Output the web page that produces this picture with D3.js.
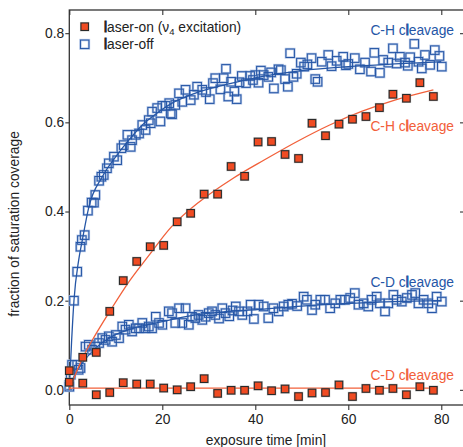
<!DOCTYPE html>
<html>
<head>
<meta charset="utf-8">
<script src="https://cdn.jsdelivr.net/npm/d3@7"></script>
<style>
body { margin: 0; background: #fff; }
svg { display: block; font-family: 'Liberation Sans', Arial, sans-serif; }
</style>
</head>
<body>
<svg id="chart" width="463" height="447"></svg>
<script>
// laser-on points (one every ~2.9 min)
const onTimes = [0, 2.9, 5.8, 8.7, 11.6, 14.5, 17.4, 20.3, 23.2, 26.1, 29.0, 31.9, 34.8, 37.7,
	40.6, 43.5, 46.4, 49.3, 52.2, 55.1, 58.0, 60.9, 63.8, 66.7, 69.6, 72.5, 75.4, 78.3];
const onCH = [0.043, 0.073, 0.084, 0.176, 0.245, 0.288, 0.321, 0.324, 0.377, 0.396, 0.439, 0.439, 0.501, 0.479,
	0.556, 0.557, 0.528, 0.519, 0.598, 0.570, 0.596, 0.607, 0.613, 0.633, 0.663, 0.654, 0.689, 0.658];
const onCD = [0.017, 0.015, -0.011, -0.006, 0.016, 0.013, 0.013, 0.004, 0.0, 0.007, 0.025, -0.008, -0.001, -0.001,
	0.009, -0.002, 0.002, -0.015, -0.007, -0.006, 0.011, -0.015, 0.003, -0.001, 0.003, -0.011, 0.007, -0.001];

// laser-off points, C-H
const offCHTimes = [0, 1.0, 1.7, 2.4, 2.7, 3.3, 4.0, 4.8, 5.3, 5.6, 6.4, 6.9, 7.4, 8.1, 8.5, 9.6, 10.3, 11.2, 11.7,
	12.5, 13.2, 13.5, 14.3, 15.0, 15.7, 16.4, 17.1, 17.5, 17.8, 18.9, 19.6, 20.0, 20.7, 21.5, 21.8, 22.1, 22.8,
	23.6, 24.3, 25.0, 26.1, 26.8, 27.5, 28.6, 29.4, 30.2, 30.9, 31.4, 32.5, 33.2, 33.7, 34.2, 34.8, 35.5, 36.0,
	36.6, 37.1, 38.0, 38.9, 39.5, 40.0, 40.7, 41.2, 41.8, 42.8, 43.4, 44.0, 45.0, 45.5, 46.4, 47.0, 47.5, 48.2,
	48.9, 49.8, 50.5, 51.2, 52.1, 52.9, 53.4, 54.3, 55.7, 56.4, 57.5, 58.9, 59.5, 60.0, 61.4, 62.5, 63.6, 64.9,
	65.6, 66.8, 67.5, 68.6, 69.6, 70.4, 71.1, 72.2, 72.8, 73.3, 74.2, 75.1, 75.8, 76.5, 77.6, 78.6, 79.6, 80.1];
const offCH = [0.010, 0.200, 0.265, 0.321, 0.336, 0.347, 0.402, 0.420, 0.420, 0.437, 0.469, 0.478, 0.482, 0.497,
	0.508, 0.523, 0.515, 0.542, 0.549, 0.572, 0.545, 0.560, 0.572, 0.575, 0.594, 0.583, 0.605, 0.598, 0.624,
	0.632, 0.602, 0.637, 0.637, 0.643, 0.620, 0.618, 0.639, 0.665, 0.646, 0.673, 0.650, 0.662, 0.680, 0.673,
	0.668, 0.652, 0.688, 0.699, 0.674, 0.699, 0.720, 0.658, 0.691, 0.669, 0.652, 0.690, 0.704, 0.688, 0.704,
	0.695, 0.706, 0.689, 0.716, 0.706, 0.702, 0.712, 0.676, 0.719, 0.717, 0.697, 0.680, 0.755, 0.702, 0.709,
	0.734, 0.725, 0.730, 0.744, 0.697, 0.691, 0.736, 0.751, 0.726, 0.738, 0.747, 0.728, 0.731, 0.744, 0.719,
	0.734, 0.714, 0.756, 0.711, 0.740, 0.734, 0.766, 0.732, 0.747, 0.734, 0.727, 0.746, 0.776, 0.736, 0.721,
	0.751, 0.729, 0.762, 0.749, 0.725];

// laser-off points, C-D
const offCDTimes = [0, 0.3, 0.6, 1.7, 2.0, 2.4, 3.5, 4.2, 4.9, 5.6, 6.4, 7.1, 7.8, 8.5, 9.2, 10.0, 10.7, 11.4,
	12.1, 12.8, 13.5, 14.3, 15.0, 15.7, 16.4, 17.1, 17.8, 18.6, 19.3, 20.0, 21.4, 22.1, 22.8, 23.6, 24.3, 25.0,
	25.7, 26.4, 27.1, 27.8, 28.6, 29.3, 30.0, 30.7, 31.4, 32.2, 32.9, 33.6, 34.4, 35.1, 35.8, 36.5, 37.2, 38.3,
	39.0, 39.7, 40.7, 41.8, 42.8, 43.9, 45.0, 46.1, 47.1, 47.9, 49.0, 50.4, 51.1, 52.2, 52.9, 54.0, 55.0, 56.1,
	57.2, 58.3, 59.3, 60.4, 61.4, 62.2, 63.3, 64.3, 65.0, 66.1, 66.8, 67.9, 68.6, 69.7, 70.4, 71.5, 72.6, 73.7,
	74.4, 75.1, 76.2, 77.2, 78.0, 79.0, 80.1];
const offCD = [0.007, 0.034, 0.056, 0.056, 0.045, 0.049, 0.097, 0.101, 0.090, 0.097, 0.105, 0.116, 0.112, 0.120,
	0.108, 0.123, 0.116, 0.142, 0.135, 0.146, 0.131, 0.138, 0.138, 0.150, 0.138, 0.142, 0.138, 0.164, 0.150,
	0.146, 0.176, 0.172, 0.150, 0.183, 0.150, 0.183, 0.146, 0.164, 0.161, 0.168, 0.157, 0.164, 0.172, 0.176,
	0.168, 0.160, 0.183, 0.172, 0.165, 0.178, 0.187, 0.176, 0.168, 0.176, 0.191, 0.159, 0.191, 0.187, 0.161,
	0.183, 0.176, 0.187, 0.191, 0.193, 0.188, 0.209, 0.202, 0.179, 0.191, 0.202, 0.202, 0.183, 0.194, 0.202,
	0.202, 0.206, 0.217, 0.191, 0.194, 0.187, 0.202, 0.209, 0.194, 0.176, 0.194, 0.213, 0.202, 0.198, 0.206,
	0.213, 0.217, 0.194, 0.202, 0.194, 0.183, 0.209, 0.198];

// fitted curves
const fitOnCHTimes = [0, 2.8, 5.7, 8.7, 13, 17, 22, 28, 35, 42, 49, 56, 63, 70, 78.3];
const fitOnCH = [0, 0.07, 0.125, 0.176, 0.245, 0.3, 0.366, 0.422, 0.473, 0.516, 0.557, 0.594, 0.625, 0.65, 0.673];
const fitOffCHTimes = [0, 0.5, 1, 2, 2.8, 4.2, 7.1, 10, 12.8, 15.7, 19.3, 22.1, 27, 33.8, 40, 50, 60, 70, 80];
const fitOffCH = [0, 0.11, 0.2, 0.29, 0.336, 0.41, 0.478, 0.523, 0.56, 0.594, 0.624, 0.643, 0.665, 0.685, 0.7,
	0.716, 0.725, 0.731, 0.736];
const fitOffCDTimes = [0, 1, 2.8, 5.6, 9.2, 12.8, 20, 27.2, 34.3, 40.4, 50, 60.4, 70, 80];
const fitOffCD = [0.004, 0.03, 0.06, 0.093, 0.12, 0.135, 0.153, 0.168, 0.176, 0.18, 0.188, 0.194, 0.198, 0.2];
const fitOnCDTimes = [0, 79];
const fitOnCD = [0.004, 0.004];

const xTicks = [0, 20, 40, 60, 80],
	yTicks = [0, 0.2, 0.4, 0.6, 0.8];

const blue = '#2556a6',
	red = '#f04b22',
	redLine = '#f2603a',
	ink = '#333';

const zip = (xs, ys) => xs.map((t, i) => ({t, v: ys[i]}));

const svg = d3.select('#chart');

const x = d3.scaleLinear().domain([0, 85.1]).range([69.3, 465]),
	y = d3.scaleLinear().domain([-0.034, 0.852]).range([405, 10]);

const styleAxis = g => {
	g.select('.domain').remove();
	g.selectAll('line').attr('stroke', ink).attr('stroke-width', 1.1);
	g.selectAll('text').attr('fill', '#222').style('font-size', '13.8px')
		.style('font-family', "'Liberation Sans', Arial, sans-serif");
};

svg.append('g').attr('transform', `translate(${x.range()[0]},0)`)
	.call(d3.axisLeft(y).tickValues(yTicks).tickFormat(d3.format('.1f')).tickSize(4).tickPadding(1))
	.call(styleAxis);
svg.append('g').attr('transform', `translate(0,${y.range()[0]})`)
	.call(d3.axisBottom(x).tickValues(xTicks).tickSize(5).tickPadding(4))
	.call(styleAxis);
svg.append('g').attr('transform', `translate(0,${y.range()[1]})`)
	.call(d3.axisTop(x).tickValues(xTicks).tickSize(-5).tickFormat(''))
	.call(styleAxis);
svg.append('g').attr('transform', `translate(${x.range()[1]},0)`)
	.call(d3.axisRight(y).tickValues(yTicks).tickSize(-5).tickFormat(''))
	.call(styleAxis);

svg.append('rect')
	.attr('x', x.range()[0]).attr('y', y.range()[1])
	.attr('width', x.range()[1] - x.range()[0]).attr('height', y.range()[0] - y.range()[1])
	.attr('fill', 'none').attr('stroke', ink).attr('stroke-width', 1.3);

const openSquares = (data, size) => {
	const g = svg.append('g');
	g.selectAll('rect.halo').data(data).enter().append('rect')
		.attr('x', d => x(d.t) - size / 2).attr('y', d => y(d.v) - size / 2)
		.attr('width', size).attr('height', size)
		.attr('fill', 'none').attr('stroke', '#b4c6e6').attr('stroke-width', 2.4);
	g.selectAll('rect.mark').data(data).enter().append('rect')
		.attr('x', d => x(d.t) - size / 2).attr('y', d => y(d.v) - size / 2)
		.attr('width', size).attr('height', size)
		.attr('fill', 'none').attr('stroke', blue).attr('stroke-width', 1);
};

const filledSquares = (data, size) => {
	const g = svg.append('g');
	g.selectAll('rect.shadow').data(data).enter().append('rect')
		.attr('x', d => x(d.t) - size / 2 - 1).attr('y', d => y(d.v) - size / 2 - 1)
		.attr('width', size + 2).attr('height', size + 2)
		.attr('fill', '#999').attr('opacity', 0.55);
	g.selectAll('rect.mark').data(data).enter().append('rect')
		.attr('x', d => x(d.t) - size / 2).attr('y', d => y(d.v) - size / 2)
		.attr('width', size).attr('height', size)
		.attr('fill', red).attr('stroke', '#2a2a2a').attr('stroke-width', 1.1);
};

const line = d3.line().x(d => x(d.t)).y(d => y(d.v)).curve(d3.curveMonotoneX);

const drawFit = (data, color) => svg.append('path')
	.datum(data).attr('d', line)
	.attr('fill', 'none').attr('stroke', color).attr('stroke-width', 1.3);

openSquares(zip(offCHTimes, offCH), 8.5);
openSquares(zip(offCDTimes, offCD), 8.5);
drawFit(zip(fitOffCHTimes, fitOffCH), blue);
drawFit(zip(fitOffCDTimes, fitOffCD), blue);
drawFit(zip(fitOnCHTimes, fitOnCH), redLine);
drawFit(zip(fitOnCDTimes, fitOnCD), redLine);
filledSquares(zip(onTimes, onCH), 7.5);
filledSquares(zip(onTimes, onCD), 7.5);

// labels with the heavy "l" of the original lettering
const label = (txt, xPos, yPos, color, anchor) => {
	const t = svg.append('text').attr('x', xPos).attr('y', yPos)
		.attr('fill', color).attr('text-anchor', anchor).style('font-size', '13.8px');
	const i = txt.indexOf('l');
	t.append('tspan').text(txt.slice(0, i));
	t.append('tspan').text('l').attr('stroke', color).attr('stroke-width', 0.9);
	t.append('tspan').text(txt.slice(i + 1));
	return t;
};

label('C-H cleavage', 454, 35, blue, 'end');
label('C-H cleavage', 454, 131, redLine, 'end');
label('C-D cleavage', 454, 287, blue, 'end');
label('C-D cleavage', 454, 380, redLine, 'end');

// legend
filledSquares([{t: x.invert(84.7), v: y.invert(26.7)}], 7.5);
openSquares([{t: x.invert(84.7), v: y.invert(44.3)}], 8.5);
const lg1 = svg.append('text').attr('x', 104).attr('y', 31.5).attr('fill', '#222').style('font-size', '13.8px');
lg1.append('tspan').text('l').attr('stroke', '#222').attr('stroke-width', 0.9);
lg1.append('tspan').text('aser-on (ν');
lg1.append('tspan').text('4').attr('dy', 3).style('font-size', '9.5px');
lg1.append('tspan').text(' excitation)').attr('dy', -3);
const lg2 = svg.append('text').attr('x', 104).attr('y', 49).attr('fill', '#222').style('font-size', '13.8px');
lg2.append('tspan').text('l').attr('stroke', '#222').attr('stroke-width', 0.9);
lg2.append('tspan').text('aser-off');

// axis titles
svg.append('text').attr('x', 266).attr('y', 445).attr('text-anchor', 'middle')
	.attr('fill', '#222').style('font-size', '13.8px').text('exposure time [min]');
svg.append('text').attr('transform', 'translate(19,224) rotate(-90)').attr('text-anchor', 'middle')
	.attr('fill', '#222').style('font-size', '13.8px').text('fraction of saturation coverage');
</script>
</body>
</html>
